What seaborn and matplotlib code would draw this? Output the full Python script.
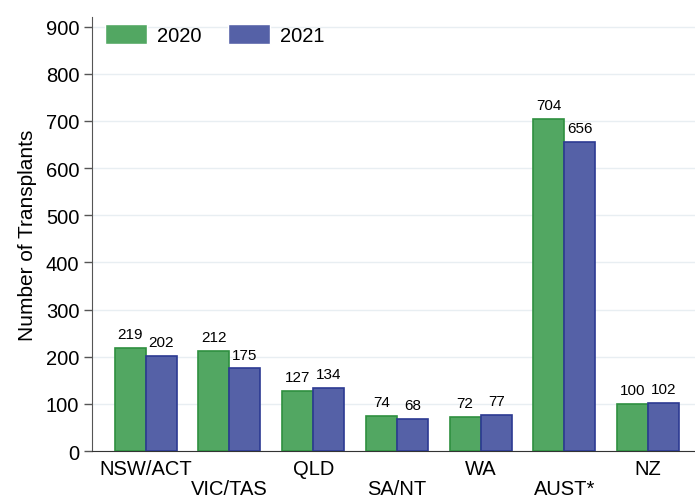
import matplotlib
matplotlib.use("Agg")
import matplotlib.pyplot as plt
import pandas as pd
import seaborn as sns

# 数据
regions = ["NSW/ACT", "VIC/TAS", "QLD", "SA/NT", "WA", "AUST*", "NZ"]
years = ["2020", "2021"]
vals_2020 = [219, 212, 127, 74, 72, 704, 100]
vals_2021 = [202, 175, 134, 68, 77, 656, 102]

df = pd.DataFrame({
    "region": regions * 2,
    "year": [years[0]] * len(regions) + [years[1]] * len(regions),
    "count": vals_2020 + vals_2021,
})

sns.set_style("white")
plt.rcParams['font.family'] = ['Liberation Sans', 'DejaVu Sans']
plt.rcParams['text.color'] = 'black'
plt.rcParams['xtick.color'] = 'black'
plt.rcParams['ytick.color'] = 'black'
plt.rcParams['axes.labelcolor'] = 'black'

fill_colors = ["#52a762", "#5561a7"]
edge_colors = ["#2f9040", "#2c3a92"]

fig = plt.figure(figsize=(6.95, 5.02), dpi=100)
ax = fig.add_axes([0.132, 0.0996, 0.868, 0.864])

sns.barplot(data=df, x="region", y="count", hue="year", palette=fill_colors,
            width=0.74, ax=ax, saturation=1, zorder=3)

for i, cont in enumerate(ax.containers):
    for p in cont:
        p.set_edgecolor(edge_colors[i])
        p.set_linewidth(1.2)
    ax.bar_label(cont, fontsize=11, padding=5, color="black")

ax.set_ylim(0, 920)
ax.set_xlim(-0.645, 6.56)
ax.set_yticks(range(0, 901, 100))
ax.grid(axis="y", color="#e8eef2", linewidth=1, zorder=0)
ax.set_axisbelow(True)

# 交错的 x 轴标签
labels = [r if i % 2 == 0 else "\n" + r for i, r in enumerate(regions)]
ax.set_xticks(range(len(regions)))
ax.set_xticklabels(labels, fontsize=14.5, linespacing=1.05)
ax.tick_params(axis="x", length=0, pad=6)
ax.tick_params(axis="y", labelsize=14.5, length=6, width=1, color="#555555",
               direction="out", left=True, pad=3)

ax.set_xlabel("")
ax.set_ylabel("Number of Transplants", fontsize=15, labelpad=6)

for s in ["top", "right"]:
    ax.spines[s].set_visible(False)
ax.spines["left"].set_color("#555555")
ax.spines["bottom"].set_color("#333333")

ax.legend(loc="upper left", ncol=2, frameon=False, fontsize=14.5,
          handlelength=2.1, handleheight=1.15, columnspacing=1.3,
          handletextpad=0.5, bbox_to_anchor=(0.0, 1.015), borderaxespad=0.25)

plt.savefig("out.png", dpi=100)
